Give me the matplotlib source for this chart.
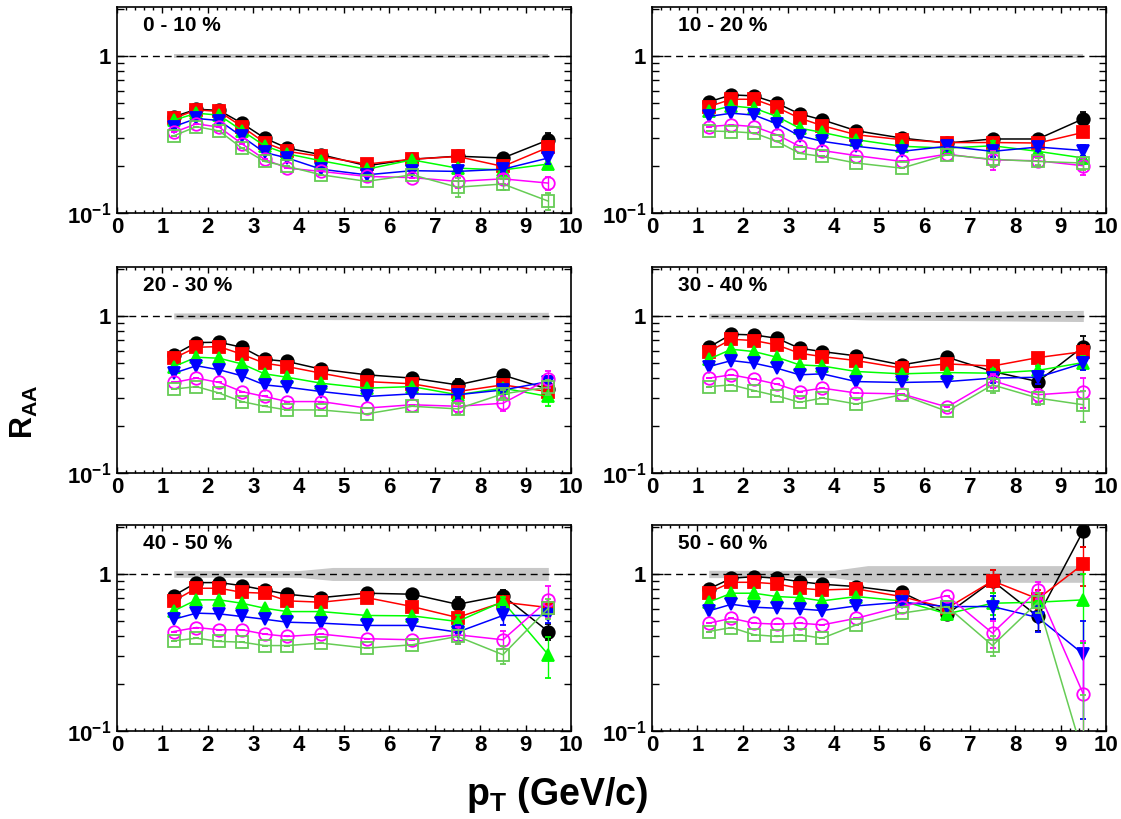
import matplotlib
matplotlib.use("Agg")
import matplotlib.pyplot as plt
from matplotlib.ticker import FixedLocator, MultipleLocator, FuncFormatter

# ---------------- data ----------------
pt = [1.25, 1.75, 2.25, 2.75, 3.25, 3.75, 4.5, 5.5, 6.5, 7.5, 8.5, 9.5]
centralities = ["0 - 10 %", "10 - 20 %", "20 - 30 %", "30 - 40 %", "40 - 50 %", "50 - 60 %"]

# series order: black circle, red square, green up-triangle, blue down-triangle,
#               magenta open circle, light-green open square
raa_0_10 = [
    [0.41, 0.458, 0.45, 0.373, 0.30, 0.259, 0.235, 0.20, 0.22, 0.23, 0.224, 0.292],
    [0.40, 0.454, 0.443, 0.355, 0.281, 0.247, 0.229, 0.205, 0.22, 0.229, 0.198, 0.262],
    [0.39, 0.432, 0.42, 0.335, 0.268, 0.238, 0.215, 0.19, 0.218, 0.193, 0.188, 0.205],
    [0.355, 0.40, 0.388, 0.307, 0.243, 0.224, 0.19, 0.175, 0.186, 0.184, 0.19, 0.224],
    [0.326, 0.37, 0.352, 0.276, 0.22, 0.193, 0.184, 0.171, 0.168, 0.159, 0.165, 0.155],
    [0.31, 0.355, 0.333, 0.259, 0.213, 0.198, 0.175, 0.159, 0.175, 0.146, 0.153, 0.119],
]
raa_10_20 = [
    [0.51, 0.565, 0.557, 0.50, 0.428, 0.392, 0.334, 0.30, 0.279, 0.296, 0.296, 0.398],
    [0.476, 0.53, 0.53, 0.47, 0.402, 0.36, 0.315, 0.293, 0.281, 0.281, 0.279, 0.326],
    [0.443, 0.481, 0.465, 0.412, 0.347, 0.326, 0.293, 0.266, 0.259, 0.268, 0.247, 0.224],
    [0.412, 0.432, 0.42, 0.37, 0.31, 0.286, 0.266, 0.247, 0.266, 0.247, 0.263, 0.25],
    [0.355, 0.364, 0.355, 0.315, 0.266, 0.25, 0.232, 0.213, 0.237, 0.218, 0.215, 0.20],
    [0.333, 0.33, 0.323, 0.286, 0.24, 0.229, 0.208, 0.193, 0.235, 0.22, 0.213, 0.208],
]
raa_20_30 = [
    [0.565, 0.677, 0.68, 0.632, 0.53, 0.513, 0.458, 0.422, 0.402, 0.364, 0.42, 0.342],
    [0.538, 0.632, 0.638, 0.57, 0.50, 0.476, 0.432, 0.382, 0.37, 0.33, 0.364, 0.33],
    [0.476, 0.546, 0.538, 0.495, 0.428, 0.407, 0.373, 0.347, 0.355, 0.315, 0.347, 0.307],
    [0.432, 0.482, 0.454, 0.416, 0.364, 0.352, 0.33, 0.307, 0.319, 0.315, 0.338, 0.382],
    [0.377, 0.402, 0.377, 0.33, 0.307, 0.285, 0.285, 0.259, 0.272, 0.266, 0.278, 0.396],
    [0.342, 0.355, 0.323, 0.285, 0.266, 0.252, 0.252, 0.238, 0.266, 0.256, 0.319, 0.352],
]
raa_30_40 = [
    [0.632, 0.765, 0.757, 0.721, 0.623, 0.593, 0.557, 0.488, 0.546, 0.443, 0.382, 0.638],
    [0.593, 0.711, 0.697, 0.654, 0.579, 0.551, 0.52, 0.465, 0.495, 0.48, 0.543, 0.593],
    [0.53, 0.614, 0.593, 0.546, 0.488, 0.48, 0.443, 0.428, 0.436, 0.432, 0.45, 0.505],
    [0.476, 0.52, 0.50, 0.465, 0.422, 0.428, 0.382, 0.377, 0.382, 0.402, 0.407, 0.50],
    [0.402, 0.422, 0.396, 0.368, 0.33, 0.347, 0.323, 0.319, 0.263, 0.388, 0.315, 0.33],
    [0.355, 0.364, 0.335, 0.31, 0.282, 0.30, 0.275, 0.315, 0.247, 0.364, 0.30, 0.272],
]
raa_40_50 = [
    [0.728, 0.881, 0.881, 0.843, 0.791, 0.743, 0.707, 0.754, 0.743, 0.641, 0.728, 0.43],
    [0.674, 0.811, 0.811, 0.764, 0.754, 0.674, 0.661, 0.707, 0.62, 0.528, 0.661, 0.611],
    [0.582, 0.684, 0.684, 0.651, 0.605, 0.576, 0.576, 0.544, 0.541, 0.498, 0.667, 0.306],
    [0.515, 0.563, 0.557, 0.536, 0.515, 0.493, 0.486, 0.47, 0.47, 0.426, 0.544, 0.544],
    [0.43, 0.456, 0.441, 0.441, 0.414, 0.40, 0.414, 0.387, 0.381, 0.41, 0.381, 0.684],
    [0.375, 0.39, 0.372, 0.368, 0.35, 0.35, 0.363, 0.337, 0.354, 0.40, 0.306, 0.605],
]
raa_50_60 = [
    [0.803, 0.939, 0.962, 0.939, 0.894, 0.86, 0.831, 0.764, 0.555, 0.903, 0.536, 1.885],
    [0.761, 0.885, 0.885, 0.864, 0.811, 0.791, 0.803, 0.718, 0.605, 0.903, 0.694, 1.157],
    [0.661, 0.754, 0.754, 0.718, 0.707, 0.674, 0.718, 0.674, 0.557, 0.651, 0.661, 0.684],
    [0.582, 0.641, 0.614, 0.605, 0.599, 0.585, 0.626, 0.661, 0.62, 0.62, 0.528, 0.309],
    [0.486, 0.522, 0.486, 0.479, 0.486, 0.474, 0.522, 0.62, 0.728, 0.42, 0.791, 0.172],
    [0.43, 0.456, 0.41, 0.40, 0.41, 0.39, 0.474, 0.563, 0.62, 0.35, 0.661, 0.07],
]

# statistical errors for the three highest pT bins (7.5, 8.5, 9.5 GeV/c)
err_0_10 = [[0.015, 0.015, 0.03], [0.015, 0.01, 0.025], [0.01, 0.01, 0.015],
            [0.01, 0.01, 0.02], [0.015, 0.012, 0.015], [0.02, 0.012, 0.015]]
err_10_20 = [[0.02, 0.02, 0.04], [0.02, 0.015, 0.02], [0.02, 0.015, 0.02],
             [0.02, 0.015, 0.02], [0.03, 0.015, 0.025], [0.025, 0.012, 0.02]]
err_20_30 = [[0.03, 0.025, 0.04], [0.03, 0.02, 0.035], [0.02, 0.02, 0.04],
             [0.02, 0.02, 0.035], [0.02, 0.03, 0.05], [0.02, 0.02, 0.04]]
err_30_40 = [[0.04, 0.04, 0.11], [0.03, 0.03, 0.06], [0.03, 0.03, 0.05],
             [0.03, 0.04, 0.05], [0.04, 0.03, 0.07], [0.04, 0.03, 0.06]]
err_40_50 = [[0.07, 0.06, 0.05], [0.05, 0.05, 0.05], [0.05, 0.05, 0.09],
             [0.05, 0.07, 0.06], [0.05, 0.05, 0.16], [0.04, 0.04, 0.09]]
err_50_60 = [[0.15, 0.1, 0.4], [0.15, 0.1, 0.32], [0.1, 0.1, 0.32],
             [0.1, 0.1, 0.19], [0.08, 0.1, 0.2], [0.05, 0.1, 0.1]]

# normalisation uncertainty band around 1 (relative half width)
band_x = [1.25, 4.0, 4.75, 9.5]
band_0_10 = [0.03, 0.03, 0.03, 0.03]
band_10_20 = [0.035, 0.035, 0.035, 0.035]
band_20_30 = [0.045, 0.05, 0.055, 0.055]
band_30_40 = [0.04, 0.045, 0.06, 0.085]
band_40_50 = [0.05, 0.05, 0.10, 0.10]
band_50_60 = [0.055, 0.055, 0.13, 0.13]

all_raa = [raa_0_10, raa_10_20, raa_20_30, raa_30_40, raa_40_50, raa_50_60]
all_err = [err_0_10, err_10_20, err_20_30, err_30_40, err_40_50, err_50_60]
all_band = [band_0_10, band_10_20, band_20_30, band_30_40, band_40_50, band_50_60]

colors = ["#000000", "#ff0000", "#00ff00", "#0000ff", "#ff00ff", "#66cc55"]
markers = ["o", "s", "^", "v", "o", "s"]
filled = [True, True, True, True, False, False]

# ---------------- style ----------------
plt.rcParams["font.family"] = ["Liberation Sans", "DejaVu Sans"]
plt.rcParams["font.weight"] = "bold"
plt.rcParams["mathtext.fontset"] = "custom"
plt.rcParams["mathtext.rm"] = "Liberation Sans:bold"
plt.rcParams["mathtext.bf"] = "Liberation Sans:bold"
plt.rcParams["mathtext.it"] = "Liberation Sans:bold"

W, H = 1121, 819
fig = plt.figure(figsize=(W / 100, H / 100), dpi=100)

col_left = [117, 652]
col_w = 454
row_top = [7, 267, 525]
row_h = 206


def yfmt(v, pos):
    if abs(v - 1) < 1e-9:
        return "1"
    if abs(v - 0.1) < 1e-9:
        return r"$\mathbf{10^{-1}}$"
    return ""


for i in range(6):
    r, c = divmod(i, 2)
    ax = fig.add_axes([col_left[c] / W, 1 - (row_top[r] + row_h) / H, col_w / W, row_h / H])
    ax.set_yscale("log")
    ax.set_xlim(0, 10)
    ax.set_ylim(0.1, 2.05)

    b = all_band[i]
    ax.fill_between(band_x, [1 / (1 + f) for f in b], [1 + f for f in b],
                    color="#c8c8c8", lw=0, zorder=1)
    ax.axhline(1, color="k", ls=(0, (5, 3.5)), lw=1.0, zorder=2)

    for s in range(6):
        vals = all_raa[i][s]
        err = [0.0] * 9 + all_err[i][s]
        col = colors[s]
        ax.errorbar(pt, vals, yerr=err, color=col, marker=markers[s], ms=9,
                    mfc=col if filled[s] else "none", mec=col, mew=1.3,
                    lw=1.1, elinewidth=1.0, capsize=2.5, capthick=1.0,
                    zorder=3 + s, clip_on=True)

    ax.text(0.057, 0.91, centralities[i], transform=ax.transAxes, fontsize=15,
            fontweight="bold", va="center", ha="left")

    ax.xaxis.set_major_locator(MultipleLocator(1))
    ax.xaxis.set_minor_locator(MultipleLocator(0.2))
    ax.yaxis.set_major_locator(FixedLocator([0.1, 1]))
    ax.yaxis.set_minor_locator(FixedLocator([0.2, 0.3, 0.4, 0.5, 0.6, 0.7, 0.8, 0.9, 2]))
    ax.yaxis.set_major_formatter(FuncFormatter(yfmt))
    ax.yaxis.set_minor_formatter(FuncFormatter(lambda v, p: ""))
    ax.tick_params(which="both", direction="in", top=True, right=True, width=1.0)
    ax.tick_params(axis="x", which="major", length=4, labelsize=16, pad=3)
    ax.tick_params(axis="x", which="minor", length=2)
    ax.tick_params(axis="y", which="major", length=8, labelsize=16, pad=4)
    ax.tick_params(axis="y", which="minor", length=5)
    for lab in ax.get_xticklabels() + ax.get_yticklabels():
        lab.set_fontweight("bold")
    for sp in ax.spines.values():
        sp.set_linewidth(1.2)

fig.text(0.022, 0.497, r"$\mathbf{R_{AA}}$", rotation=90, fontsize=22,
         ha="center", va="center")
fig.text(0.497, 0.017, r"$\mathbf{p_{T}}$ (GeV/c)", fontsize=27,
         ha="center", va="baseline", fontweight="bold")

fig.savefig("out.png", dpi=100)
